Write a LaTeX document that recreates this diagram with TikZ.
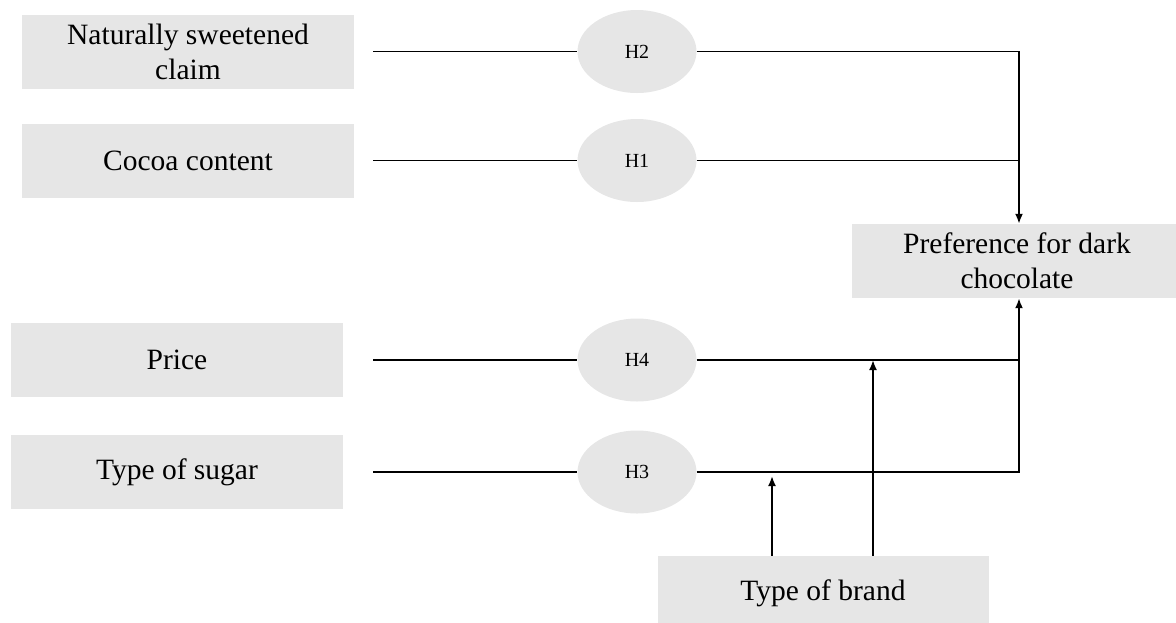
\documentclass[tikz,border=0pt]{standalone}
\usepackage{fontspec}
\setmainfont{Liberation Serif}
\usetikzlibrary{arrows.meta,shapes.geometric}
\definecolor{boxgray}{HTML}{E6E6E6}
\begin{document}
\begin{tikzpicture}[x=1pt,y=-1pt,
  box/.style={fill=boxgray, inner sep=0pt, minimum height=74pt, align=center,
    font=\fontsize{29.5}{35}\selectfont},
  hyp/.style={ellipse, fill=boxgray, minimum width=119pt, minimum height=83pt,
    inner sep=0pt, font=\fontsize{20}{22}\selectfont},
  link/.style={line width=1.9pt},
  arr/.style={link, -{Latex[length=10pt,width=8pt]}}]
\useasboundingbox (0,0) rectangle (1176,622);
\node[box, minimum width=332pt] (b1) at (188,51.5) {Naturally sweetened\\claim};
\node[box, minimum width=332pt] (b2) at (188,160.5) {Cocoa content};
\node[box, minimum width=332pt] (b3) at (177,360) {Price};
\node[box, minimum width=332pt] (b4) at (177,472) {Type of sugar};
\node[hyp] (h2) at (637,51.5) {H2};
\node[hyp] (h1) at (637,160.5) {H1};
\node[hyp] (h4) at (637,360) {H4};
\node[hyp] (h3) at (637,472) {H3};
\node[box, minimum width=330pt] (pref) at (1017,261) {Preference for dark\\chocolate};
\node[box, minimum width=331pt] (brand) at (823,593) {Type of brand};
\coordinate (vx) at (1019,0);
\coordinate (m1) at (873,0);
\coordinate (m2) at (772,0);
\draw[link, shorten <=19pt] (b1) -- (h2);
\draw[link, shorten <=19pt] (b2) -- (h1);
\draw[link, shorten <=30pt] (b3) -- (h4);
\draw[link, shorten <=30pt] (b4) -- (h3);
\draw[link] (h1) -- (h1 -| vx);
\draw[arr] (h2) -- (h2 -| vx) -- (vx |- pref.north);
\draw[link] (h4) -- (h4 -| vx);
\draw[arr] (h3) -- (h3 -| vx) -- (vx |- pref.south);
\draw[arr] (brand.north -| m1) -- (m1 |- h4);
\draw[arr] (brand.north -| m2) -- ([yshift=-4pt]m2 |- h3);
\end{tikzpicture}
\end{document}
